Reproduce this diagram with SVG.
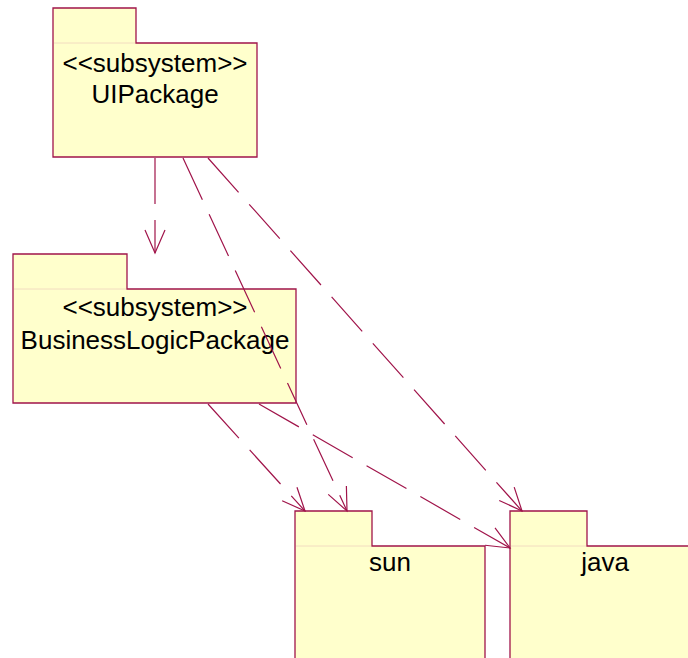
<svg xmlns="http://www.w3.org/2000/svg" width="688" height="658" viewBox="0 0 688 658">
  <style>
    .pkg { fill: #ffffcc; stroke: #a0144a; stroke-width: 1.3; }
    .sep { stroke: #f2dcc0; stroke-width: 1; }
    .lbl { font-family: "Liberation Sans", Arial, sans-serif; font-size: 26px; fill: #000; text-anchor: middle; }
    .dep { fill: none; stroke: #a0144a; stroke-width: 1.2; stroke-dasharray: 46 16; marker-end: url(#open); }
  </style>
  <defs>
    <marker id="open" markerUnits="userSpaceOnUse" markerWidth="30" markerHeight="30" viewBox="-26 -13 30 26" refX="0" refY="0" orient="auto" overflow="visible">
      <path d="M-23,-10 L0,0 L-23,10" fill="none" stroke="#a0144a" stroke-width="1.2"/>
    </marker>
  </defs>

  <rect width="688" height="658" fill="#ffffff"/>

  <g id="UIPackage">
    <path class="pkg" d="M53,157 V8 H136 V43 H257 V157 Z"/>
    <line class="sep" x1="54" y1="43" x2="135" y2="43"/>
    <text class="lbl" x="155" y="72">&lt;&lt;subsystem&gt;&gt;</text>
    <text class="lbl" x="155" y="103">UIPackage</text>
  </g>

  <g id="BusinessLogicPackage">
    <path class="pkg" d="M13,403 V254 H127 V289 H296 V403 Z"/>
    <line class="sep" x1="14" y1="289" x2="126" y2="289"/>
    <text class="lbl" x="155" y="316">&lt;&lt;subsystem&gt;&gt;</text>
    <text class="lbl" x="155" y="349">BusinessLogicPackage</text>
  </g>

  <g id="sun">
    <path class="pkg" d="M295,700 V511 H372 V546 H485 V700 Z"/>
    <line class="sep" x1="296" y1="546" x2="371" y2="546"/>
    <text class="lbl" x="390" y="571">sun</text>
  </g>

  <g id="java">
    <path class="pkg" d="M510,700 V511 H587 V546 H700 V700 Z"/>
    <line class="sep" x1="511" y1="546" x2="586" y2="546"/>
    <text class="lbl" x="605" y="571">java</text>
  </g>

  <g id="connectors">
    <line class="dep" x1="155" y1="158" x2="155" y2="253"/>
    <line class="dep" x1="183" y1="158" x2="347" y2="511"/>
    <line class="dep" x1="208" y1="158" x2="522" y2="511"/>
    <line class="dep" x1="208" y1="404" x2="305" y2="511"/>
    <line class="dep" x1="259" y1="404" x2="510" y2="548"/>
  </g>
</svg>
